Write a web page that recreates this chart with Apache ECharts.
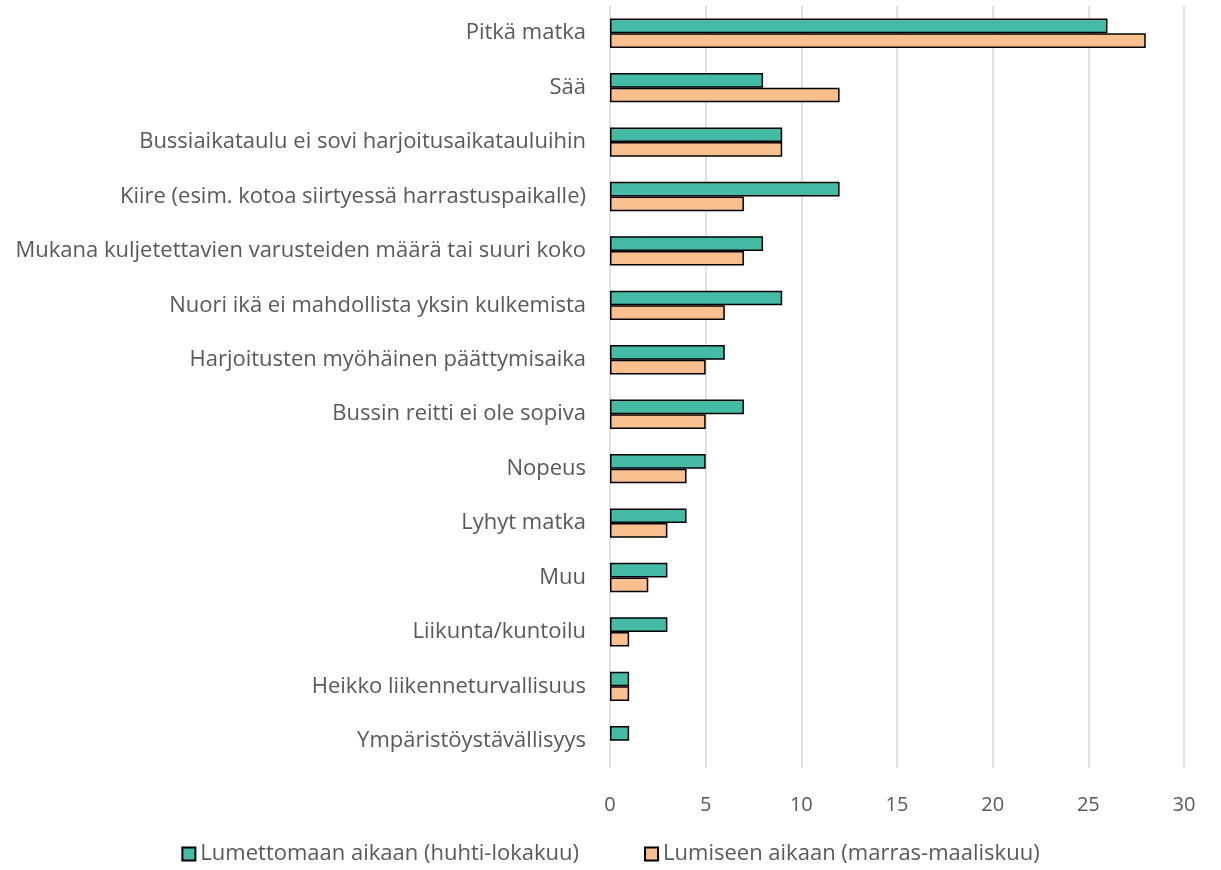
<!DOCTYPE html>
<html><head><meta charset="utf-8">
<script src="https://cdn.jsdelivr.net/npm/echarts@6/dist/echarts.min.js"></script>
<style>html,body{margin:0;padding:0;background:#fff}#c{width:1221px;height:870px}</style>
</head><body><div id="c"></div>
<script>
const categories = [
  "Pitkä matka",
  "Sää",
  "Bussiaikataulu ei sovi harjoitusaikatauluihin",
  "Kiire (esim. kotoa siirtyessä harrastuspaikalle)",
  "Mukana kuljetettavien varusteiden määrä tai suuri koko",
  "Nuori ikä ei mahdollista yksin kulkemista",
  "Harjoitusten myöhäinen päättymisaika",
  "Bussin reitti ei ole sopiva",
  "Nopeus",
  "Lyhyt matka",
  "Muu",
  "Liikunta/kuntoilu",
  "Heikko liikenneturvallisuus",
  "Ympäristöystävällisyys"
];
const seriesNames = ["Lumettomaan aikaan (huhti-lokakuu)", "Lumiseen aikaan (marras-maaliskuu)"];
const snowFree = [26, 8, 9, 12, 8, 9, 6, 7, 5, 4, 3, 3, 1, 1];
const snowy = [28, 12, 9, 7, 7, 6, 5, 5, 4, 3, 2, 1, 1, 0];
const xTicks = {min: 0, max: 30, interval: 5};

const font = "'Open Sans', sans-serif";
const toData = arr => arr.map(v => v === 0 ? {value: v, itemStyle: {borderWidth: 0}} : v);
const chart = echarts.init(document.getElementById('c'));
chart.setOption({
  animation: false,
  textStyle: {fontFamily: font},
  grid: {left: 610, right: 37, top: 6, bottom: 102, containLabel: false},
  xAxis: {
    type: 'value', min: xTicks.min, max: xTicks.max, interval: xTicks.interval,
    axisLine: {show: false}, axisTick: {show: false},
    axisLabel: {color: '#595959', fontSize: 20, margin: 27, fontFamily: font},
    splitLine: {lineStyle: {color: '#d9d9d9', width: 1.5}}
  },
  yAxis: {
    type: 'category', data: categories, inverse: true,
    axisLine: {show: false}, axisTick: {show: false},
    axisLabel: {color: '#595959', fontSize: 22, margin: 24, fontFamily: font}
  },
  legend: {
    bottom: 0, left: 'center', itemGap: 65, itemWidth: 13, itemHeight: 13,
    icon: 'rect',
    textStyle: {color: '#595959', fontSize: 22, fontFamily: font},
    data: seriesNames
  },
  series: [
    {name: seriesNames[0], type: 'bar', data: toData(snowFree), barGap: '0%', barCategoryGap: '46%',
     itemStyle: {color: '#45bba5', borderColor: '#000', borderWidth: 1.5}},
    {name: seriesNames[1], type: 'bar', data: toData(snowy), barGap: '0%', barCategoryGap: '46%',
     itemStyle: {color: '#f9c08f', borderColor: '#000', borderWidth: 1.5}}
  ]
});
</script></body></html>
